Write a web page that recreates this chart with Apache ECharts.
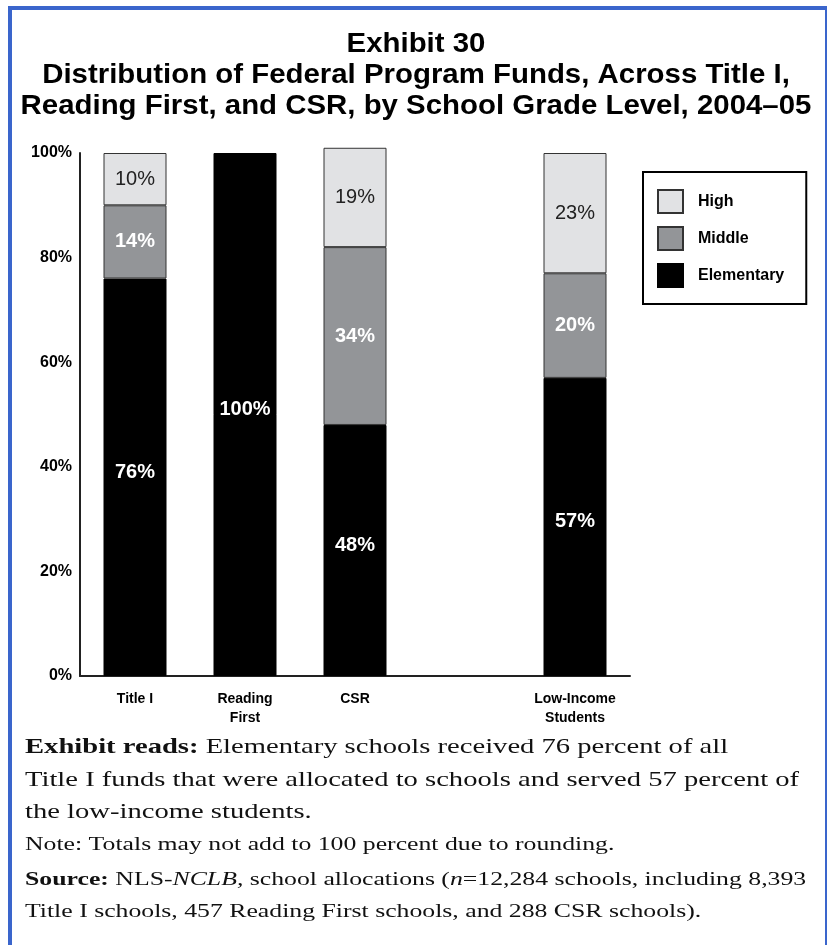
<!DOCTYPE html>
<html>
<head>
<meta charset="utf-8">
<script src="https://cdn.jsdelivr.net/npm/echarts@6/dist/echarts.min.js"></script>
<style>
  html, body { margin: 0; padding: 0; background: #fff; }
  #chart { width: 827px; height: 945px; }
</style>
</head>
<body>
<div id="chart"></div>
<script>
// 类别与数据
const categories = ['Title I', 'Reading\nFirst', 'CSR', '', 'Low-Income\nStudents'];
const elementary = [76, 100, 48, null, 57];
const middle = [14, null, 34, null, 20];
const high = [10, null, 19, null, 23];
const yTicks = [0, 20, 40, 60, 80, 100];

const chart = echarts.init(document.getElementById('chart'));
const sans = 'Liberation Sans, Arial, sans-serif';
const serif = 'Liberation Serif, Times New Roman, serif';

const option = {
  backgroundColor: '#fff',
  animation: false,
  legend: {
    orient: 'vertical',
    left: 643,
    top: 172,
    padding: [17, 22, 16, 14],
    borderColor: '#000',
    borderWidth: 2,
    icon: 'rect',
    itemWidth: 25,
    itemHeight: 23,
    itemGap: 12,
    data: ['High', 'Middle', 'Elementary'],
    textStyle: { fontFamily: sans, fontSize: 16, fontWeight: 'bold', color: '#000', padding: [0, 0, 0, 10] }
  },
  grid: { left: 80, right: 197, top: 153, bottom: 269 },
  xAxis: {
    type: 'category',
    data: categories,
    axisLine: { lineStyle: { color: '#222', width: 2 } },
    axisTick: { show: false },
    axisLabel: { fontFamily: sans, fontSize: 14, fontWeight: 'bold', color: '#000', lineHeight: 19, margin: 14 }
  },
  yAxis: {
    type: 'value',
    min: 0,
    max: 100,
    interval: 20,
    axisLine: { show: true, lineStyle: { color: '#222', width: 2 } },
    axisTick: { show: false },
    splitLine: { show: false },
    axisLabel: {
      fontFamily: sans, fontSize: 16, fontWeight: 'bold', color: '#000', margin: 8,
      formatter: v => yTicks.indexOf(v) >= 0 ? v + '%' : ''
    }
  },
  series: [
    {
      name: 'Elementary',
      type: 'bar',
      stack: 'total',
      barWidth: 63,
      clip: false,
      data: elementary,
      itemStyle: { color: '#000', borderColor: '#000', borderWidth: 1 },
      label: { show: true, formatter: '{c}%', color: '#fff', fontFamily: sans, fontSize: 20, fontWeight: 'bold', offset: [0, -5] }
    },
    {
      name: 'Middle',
      type: 'bar',
      stack: 'total',
      barWidth: 63,
      clip: false,
      data: middle,
      itemStyle: { color: '#939598', borderColor: '#333', borderWidth: 1 },
      label: { show: true, formatter: '{c}%', color: '#fff', fontFamily: sans, fontSize: 20, fontWeight: 'bold' }
    },
    {
      name: 'High',
      type: 'bar',
      stack: 'total',
      barWidth: 63,
      clip: false,
      data: high,
      itemStyle: { color: '#e1e2e4', borderColor: '#333', borderWidth: 1 },
      label: { show: true, formatter: '{c}%', color: '#222', fontFamily: sans, fontSize: 20 }
    }
  ],
  graphic: [
    {
      // 外框（蓝色）
      type: 'polyline',
      shape: { points: [[10, 960], [10, 8], [826, 8]] },
      style: { stroke: '#3a65cc', lineWidth: 4, fill: null }
    },
    {
      type: 'line',
      shape: { x1: 826, y1: 6, x2: 826, y2: 960 },
      style: { stroke: '#3a65cc', lineWidth: 2 }
    },
    {
      type: 'text',
      x: 416,
      y: 29,
      scaleX: 1.05,
      style: {
        text: 'Exhibit 30\nDistribution of Federal Program Funds, Across Title I,\nReading First, and CSR, by School Grade Level, 2004\u201305',
        align: 'center',
        fontFamily: sans, fontSize: 28, fontWeight: 'bold', lineHeight: 31, fill: '#000'
      }
    },
    {
      type: 'text',
      x: 25,
      y: 731,
      scaleX: 1.3,
      style: {
        text: '{b|Exhibit reads:} Elementary schools received 76 percent of all\nTitle I funds that were allocated to schools and served 57 percent of\nthe low-income students.',
        fontFamily: serif, fontSize: 22, lineHeight: 32.5, fill: '#111',
        rich: { b: { fontFamily: serif, fontSize: 22, fontWeight: 'bold', fill: '#111' } }
      }
    },
    {
      type: 'text',
      x: 25,
      y: 835,
      scaleX: 1.32,
      style: {
        text: 'Note: Totals may not add to 100 percent due to rounding.',
        fontFamily: serif, fontSize: 19.5, fill: '#111'
      }
    },
    {
      type: 'text',
      x: 25,
      y: 864,
      scaleX: 1.32,
      style: {
        text: '{b|Source:} NLS-{i|NCLB,} school allocations ({i|n}=12,284 schools, including 8,393\nTitle I schools, 457 Reading First schools, and 288 CSR schools).',
        fontFamily: serif, fontSize: 19.5, lineHeight: 32, fill: '#111',
        rich: {
          b: { fontFamily: serif, fontSize: 19.5, fontWeight: 'bold', fill: '#111' },
          i: { fontFamily: serif, fontSize: 19.5, fontStyle: 'italic', fill: '#111' }
        }
      }
    }
  ]
};

chart.setOption(option);
</script>
</body>
</html>
